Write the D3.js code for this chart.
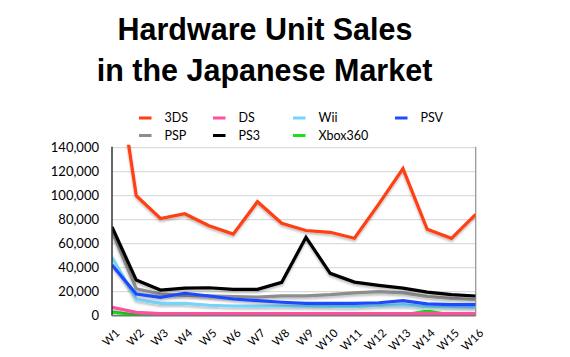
<!DOCTYPE html>
<html><head><meta charset="utf-8">
<script src="https://cdn.jsdelivr.net/npm/d3@7"></script>
<style>
html,body{margin:0;padding:0;background:#fff;}
svg{display:block;}
</style></head>
<body>
<svg id="chart" width="570" height="357"></svg>
<script>
const weeks = ["W1","W2","W3","W4","W5","W6","W7","W8","W9","W10","W11","W12","W13","W14","W15","W16"];
const s3DS  = [235000,100000,81000,85000,75000,68000,95000,77000,71000,69500,64500,93000,122500,72000,64500,84500];
const sDS   = [7000,2800,1800,1700,1700,1700,1700,1700,1700,1700,1700,1800,1800,1800,1700,1700];
const sWii  = [48700,13700,10300,10300,8700,8100,8000,8100,8000,7800,7500,8500,9000,7500,7300,7000];
const sPSV  = [42300,18000,15300,18700,16400,13900,12500,11200,10300,10300,10300,10800,12500,9800,9200,9200];
const sPSP  = [70000,22500,18000,17000,16500,16000,15500,16500,16500,17500,19000,20000,19000,16000,14500,13500];
const sPS3  = [74000,29700,21400,23000,23300,22000,22000,27800,65300,35300,28000,25300,23000,19700,17500,16400];
const sXbox = [3000,600,400,400,400,400,400,400,400,400,400,500,600,3800,500,400];
const yTicks = [0,20000,40000,60000,80000,100000,120000,140000];

const seriesNames  = ["3DS","DS","Wii","PSV","PSP","PS3","Xbox360"];
const seriesColors = ["#ff3f12","#ff4f9e","#74d4fb","#1f4cff","#8d8d8d","#000000","#1ddf1d"];
const seriesValues = [s3DS,sDS,sWii,sPSV,sPSP,sPS3,sXbox];
const drawOrder = ["Xbox360","PSP","Wii","PSV","DS","PS3","3DS"];

const svg = d3.select("#chart");
const L = 112, R = 475.7, T = 147.7, B = 315.7;

const x = d3.scalePoint().domain(weeks).range([L, R]);
const y = d3.scaleLinear().domain([0, 140000]).range([B, T]);

const defs = svg.append("defs");
defs.append("clipPath").attr("id","clip").append("rect")
  .attr("x", L).attr("y", T - 3).attr("width", R - L).attr("height", B - T + 3);
const f = defs.append("filter").attr("id","shadow").attr("x","-10%").attr("y","-10%").attr("width","120%").attr("height","140%");
f.append("feDropShadow").attr("dx",0).attr("dy",2).attr("stdDeviation",1.2).attr("flood-color","#000").attr("flood-opacity",0.25);

// Title
const titleFont = "'Liberation Sans', Arial, sans-serif";
svg.append("text").attr("x", 265).attr("y", 40).attr("text-anchor","middle")
  .style("font-family",titleFont).style("font-weight","bold").style("font-size","30.5px")
  .text("Hardware Unit Sales");
svg.append("text").attr("x", 264.5).attr("y", 80.5).attr("text-anchor","middle")
  .style("font-family",titleFont).style("font-weight","bold").style("font-size","30.5px")
  .text("in the Japanese Market");

// Gridlines
svg.append("g").selectAll("line").data(yTicks.filter(d => d > 0)).join("line")
  .attr("x1", L).attr("x2", R).attr("y1", d => y(d)).attr("y2", d => y(d))
  .attr("stroke","#d4d4d4").attr("stroke-width",1);

// Right border
svg.append("line").attr("x1", R).attr("x2", R).attr("y1", T - 1).attr("y2", B)
  .attr("stroke","#9a9a9a").attr("stroke-width",1.3);

// Y axis labels
const fmt = d3.format(",");
const yAxis = d3.axisLeft(y).tickValues(yTicks).tickFormat(fmt).tickSize(0).tickPadding(13);
const yg = svg.append("g").attr("transform", `translate(${L},0)`).call(yAxis);
yg.select(".domain").remove();
yg.selectAll("text").style("font-family","Lato, sans-serif").style("font-size","13px").attr("fill","#000");

// Lines
const line = d3.line().x((d,i) => x(weeks[i])).y(d => y(d)).curve(d3.curveLinear);
const lg = svg.append("g").attr("clip-path","url(#clip)");
drawOrder.forEach(name => {
  const k = seriesNames.indexOf(name);
  lg.append("path").datum(seriesValues[k])
    .attr("d", line).attr("fill","none")
    .attr("stroke", seriesColors[k]).attr("stroke-width", 3.2)
    .attr("stroke-linejoin","miter").attr("filter","url(#shadow)");
});

// Axes lines
svg.append("line").attr("x1", L).attr("x2", L).attr("y1", T - 1).attr("y2", B)
  .attr("stroke","#333").attr("stroke-width",1.5);
svg.append("line").attr("x1", L).attr("x2", R).attr("y1", B).attr("y2", B)
  .attr("stroke","#777").attr("stroke-width",1.5);

// X labels
const xAxis = d3.axisBottom(x).tickSize(0).tickPadding(0);
const xg = svg.append("g").attr("transform", `translate(0,${B})`).call(xAxis);
xg.select(".domain").remove();
xg.selectAll("text")
  .style("font-family","Lato, sans-serif").style("font-size","11.5px").attr("fill","#000")
  .attr("text-anchor","end").attr("dy",0).attr("y",0)
  .attr("transform","translate(8,18) rotate(-45)");

// Legend
const legendPos = [[139,118],[213,118],[293,118],[395,118],[139,135.5],[213,135.5],[293,135.5]];
const legOrder = ["3DS","DS","Wii","PSV","PSP","PS3","Xbox360"];
const leg = svg.append("g");
legOrder.forEach((name, i) => {
  const k = seriesNames.indexOf(name);
  const [lx, ly] = legendPos[i];
  leg.append("line").attr("x1", lx).attr("x2", lx + 12.5).attr("y1", ly).attr("y2", ly)
    .attr("stroke", seriesColors[k]).attr("stroke-width", 3);
  leg.append("text").attr("x", lx + 25.5).attr("y", ly + 4)
    .style("font-family","Lato, sans-serif").style("font-size","12.5px").attr("fill","#000")
    .text(name);
});
</script>
</body></html>
